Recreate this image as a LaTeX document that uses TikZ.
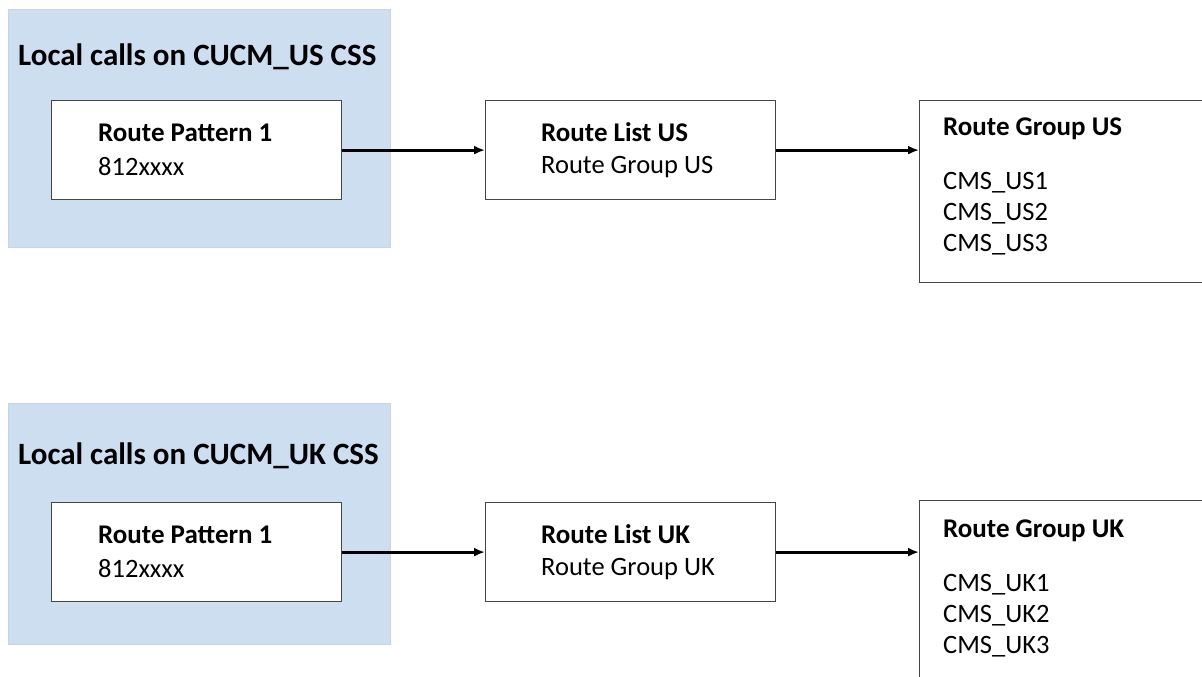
\documentclass[tikz,border=0pt]{standalone}
\usepackage{fontspec}
\setmainfont{Carlito}
\usepackage{xcolor}
\usetikzlibrary{positioning,arrows.meta}
\definecolor{cssblue}{RGB}{205,222,240}
\definecolor{boxgray}{RGB}{70,70,70}
\tikzset{
    css-box/.style = {fill=cssblue, draw=cssblue!90!gray, thin, rectangle, anchor=north west, inner sep=0pt},
    css-title/.style = {font=\fontsize{31}{37}\selectfont\bfseries, anchor=base west, inner sep=0pt},
    route-box/.style = {draw=boxgray, fill=white, line width=1.2pt, rectangle, anchor=north west, inner sep=0pt, minimum width=290pt, minimum height=99pt},
    route-head/.style = {font=\fontsize{27}{32}\selectfont\bfseries, anchor=base west, inner sep=0pt},
    route-text/.style = {font=\fontsize{26.5}{32}\selectfont, anchor=base west, inner sep=0pt},
    route-arrow/.style = {-{Latex[length=11pt,width=9pt]}, line width=2.8pt},
}

\begin{document}
\begin{tikzpicture}[x=1pt,y=-1pt]
\useasboundingbox (0,0) rectangle (1202,677);
\clip (0,0) rectangle (1202,677);
\fill[white] (0,0) rectangle (1202,677);

% US calls
\node[css-box, minimum width=382pt, minimum height=238pt] (css-us) at (8,9) {};
\node[css-title] at ([shift={(10,57)}]css-us.north west) {Local calls on CUCM\_US CSS};
\node[route-box] (rp-us) at (51,100) {};
\node[route-head] at ([shift={(47,41)}]rp-us.north west) {Route Pattern 1};
\node[route-text] at ([shift={(47,75)}]rp-us.north west) {812xxxx};
\node[route-box] (rl-us) at (485,100) {};
\node[route-head] at ([shift={(56,41)}]rl-us.north west) {Route List US};
\node[route-text] at ([shift={(56,73)}]rl-us.north west) {Route Group US};
\node[route-box, minimum width=320pt, minimum height=182pt] (rg-us) at (919,100) {};
\node[route-head] at ([shift={(24,35)}]rg-us.north west) {Route Group US};
\node[route-text] at ([shift={(24,89)}]rg-us.north west) {CMS\_US1};
\node[route-text] at ([shift={(24,120)}]rg-us.north west) {CMS\_US2};
\node[route-text] at ([shift={(24,151)}]rg-us.north west) {CMS\_US3};
\draw[route-arrow] (rp-us) -- (rl-us);
\draw[route-arrow] (rl-us.east) -- (rl-us.east -| rg-us.west);

% UK calls
\node[css-box, minimum width=382pt, minimum height=241pt] (css-uk) at (8,403) {};
\node[css-title] at ([shift={(10,61)}]css-uk.north west) {Local calls on CUCM\_UK CSS};
\node[route-box] (rp-uk) at (51,502) {};
\node[route-head] at ([shift={(47,41)}]rp-uk.north west) {Route Pattern 1};
\node[route-text] at ([shift={(47,75)}]rp-uk.north west) {812xxxx};
\node[route-box] (rl-uk) at (485,502) {};
\node[route-head] at ([shift={(56,41)}]rl-uk.north west) {Route List UK};
\node[route-text] at ([shift={(56,73)}]rl-uk.north west) {Route Group UK};
\node[route-box, minimum width=320pt, minimum height=220pt] (rg-uk) at (919,500) {};
\node[route-head] at ([shift={(24,37)}]rg-uk.north west) {Route Group UK};
\node[route-text] at ([shift={(24,91)}]rg-uk.north west) {CMS\_UK1};
\node[route-text] at ([shift={(24,122)}]rg-uk.north west) {CMS\_UK2};
\node[route-text] at ([shift={(24,153)}]rg-uk.north west) {CMS\_UK3};
\draw[route-arrow] (rp-uk) -- (rl-uk);
\draw[route-arrow] (rl-uk.east) -- (rl-uk.east -| rg-uk.west);
\end{tikzpicture}
\end{document}
